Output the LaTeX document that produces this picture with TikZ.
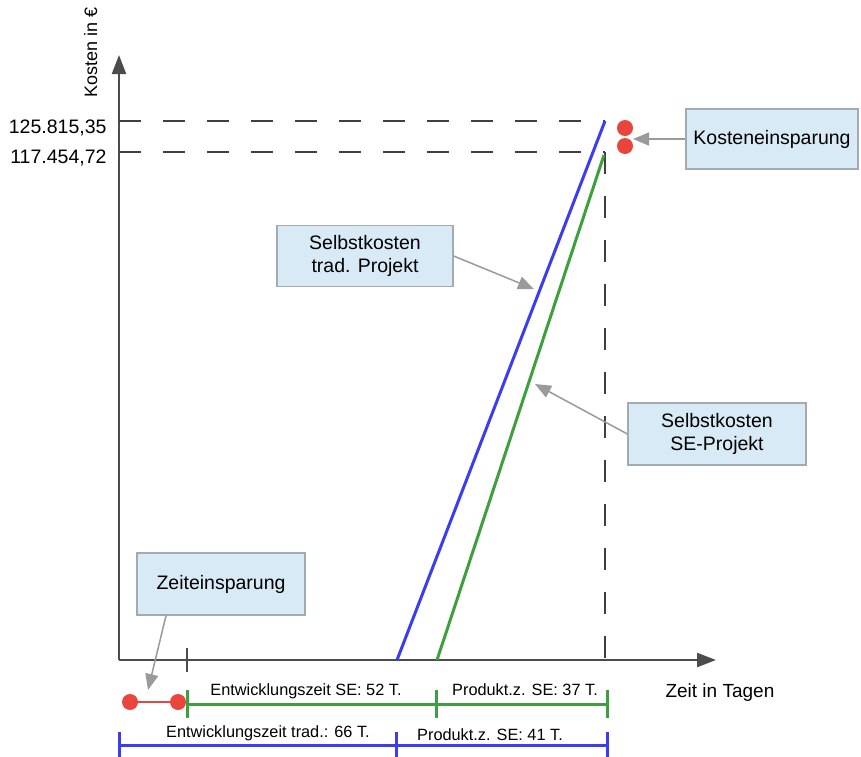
\documentclass[tikz,border=0pt]{standalone}
\usepackage{fontspec}
\setmainfont{Liberation Sans}
\usepackage{xcolor}
\usetikzlibrary{arrows.meta}
\definecolor{kastenblau}{HTML}{D8EAF6}
\definecolor{kastenrand}{HTML}{A3AAB2}
\definecolor{linieblau}{HTML}{3C3CF0}
\definecolor{liniegruen}{HTML}{3DA03D}
\definecolor{punktrot}{HTML}{E8453C}
\definecolor{pfeilgrau}{HTML}{9A9A9A}
\newcommand{\schrift}[1]{\fontsize{#1}{1.2\dimexpr#1pt\relax}\selectfont}

\begin{document}
\begin{tikzpicture}[x=1pt,y=-1pt,>=Stealth,
  kasten/.style={draw=kastenrand,fill=kastenblau,line width=1.3pt,align=center,inner sep=0pt,font=\schrift{19.5}},
  hinweis/.style={pfeilgrau,line width=1.5pt,-{Triangle[length=16pt,width=13pt]}},
  punkt/.style={circle,fill=punktrot,inner sep=0pt,minimum size=16pt},
  hilfslinie/.style={line width=1.6pt,black!75,dash pattern=on 22pt off 22pt},
  achse/.style={line width=2.2pt,black!70,-{Triangle[length=19pt,width=14pt]}},
  balken/.style={line width=3pt}]
  \useasboundingbox (0,0) rectangle (861,756);
  % Achsen
  \coordinate (o) at (119,660);
  \coordinate (ytip) at (119,55);
  \coordinate (xtip) at (716,660);
  \draw[achse] (o) -- (ytip);
  \draw[achse] (o) -- (xtip);
  \node[rotate=90,anchor=base west,font=\schrift{18}] (kosten) at (97,101) {Kosten in €};
  \node[anchor=base west,font=\schrift{19}] (zeit) at (662,697) {Zeit in Tagen};
  % Hilfslinien
  \coordinate (k1) at (119,121);
  \coordinate (k2) at (119,152);
  \coordinate (blauoben) at (605,121);
  \coordinate (gruenoben) at (605,152);
  \coordinate (blauunten) at (397,660);
  \coordinate (gruenunten) at (437,660);
  \coordinate (ende) at (605,660);
  \draw[hilfslinie] (k1) -- (blauoben);
  \draw[hilfslinie] (k2) -- (gruenoben);
  \draw[hilfslinie] (gruenoben) -- (ende);
  \node[anchor=base east,font=\schrift{19.5}] (w1) at (110,133) {125.815,35};
  \node[anchor=base east,font=\schrift{19.5}] (w2) at (110,163) {117.454,72};
  % Selbstkosten
  \draw[linieblau,line width=3pt] (blauunten) -- (blauoben);
  \draw[liniegruen,line width=3pt] (gruenunten) -- (604,155);
  % Kosteneinsparung
  \node[punkt] (r1) at (625,128) {};
  \node[punkt] (r2) at (625,146) {};
  \node[kasten,minimum width=172pt,minimum height=60pt] (kost) at (772,139) {Kosteneinsparung};
  \coordinate (kostziel) at (633,139);
  \draw[hinweis] (kost.west) -- (kostziel);
  % Hinweiskaesten
  \node[kasten,minimum width=176pt,minimum height=61pt] (trad) at (365,256) {Selbstkosten\\trad. Projekt};
  \coordinate (tradziel) at (534,289);
  \draw[hinweis] (trad.east) -- (tradziel);
  \node[kasten,minimum width=178pt,minimum height=62pt] (se) at (717,434) {Selbstkosten\\SE-Projekt};
  \coordinate (seziel) at (535,384);
  \draw[hinweis] (se.west) -- (seziel);
  \node[kasten,minimum width=168pt,minimum height=62pt] (zeitbox) at (221,584) {Zeiteinsparung};
  \coordinate (zeitziel) at (148,690);
  \draw[hinweis] ([xshift=-55pt]zeitbox.south) -- (zeitziel);
  % Zeitbalken
  \draw[black!70,line width=1.6pt] (187,648) -- (187,672);
  \node[punkt] (z1) at (130,702) {};
  \node[punkt] (z2) at (178,702) {};
  \draw[punktrot,line width=2pt] (z1) -- (z2);
  \draw[liniegruen,balken] (187,704) -- (607,704);
  \foreach \x in {187,436,607} \draw[liniegruen,balken] (\x,690) -- (\x,718);
  \draw[linieblau,balken] (119,745) -- (607,745);
  \foreach \x in {119,396,607} \draw[linieblau,balken] (\x,732) -- (\x,758);
  \node[anchor=base,font=\schrift{16.3}] (ese) at (306,695) {Entwicklungszeit SE: 52 T.};
  \node[anchor=base,font=\schrift{16.3}] (pse) at (525,695) {Produkt.z. SE: 37 T.};
  \node[anchor=base,font=\schrift{16.3}] (etr) at (268,737) {Entwicklungszeit trad.: 66 T.};
  \node[anchor=base,font=\schrift{16.3}] (ptr) at (490,740) {Produkt.z. SE: 41 T.};
\end{tikzpicture}
\end{document}
